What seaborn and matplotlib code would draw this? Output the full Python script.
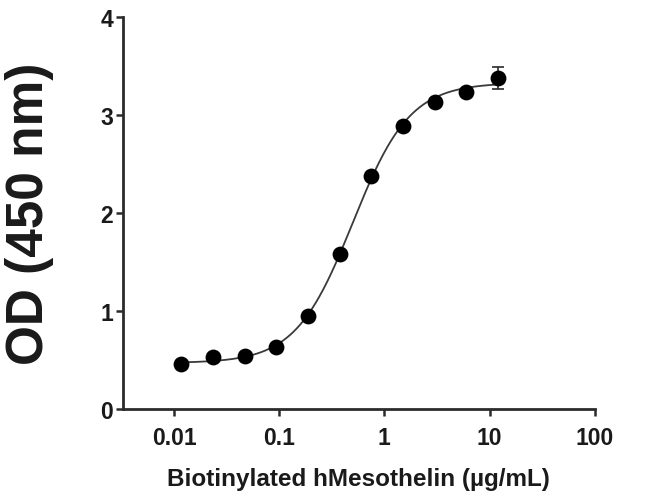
import matplotlib
matplotlib.use("Agg")
import matplotlib.pyplot as plt
import seaborn as sns
import numpy as np
import pandas as pd

# measured points (2-fold dilution series)
conc = [0.01172, 0.02344, 0.04688, 0.09375, 0.1875, 0.375, 0.75, 1.5, 3.0, 6.0, 12.0]
od = [0.46, 0.53, 0.54, 0.63, 0.95, 1.58, 2.38, 2.89, 3.13, 3.24, 3.38]
od_err = [0.0, 0.0, 0.0, 0.0, 0.0, 0.0, 0.0, 0.0, 0.0, 0.0, 0.11]

# 4PL fit parameters
fit_bottom = 0.47
fit_top = 3.33
fit_ec50 = 0.50
fit_hill = 1.6

x_ticks = [0.01, 0.1, 1, 10, 100]
x_ticklabels = ["0.01", "0.1", "1", "10", "100"]
y_ticks = [0, 1, 2, 3, 4]

sns.set_style("ticks")
plt.rcParams['font.family'] = ['Liberation Sans', 'DejaVu Sans']
plt.rcParams['font.weight'] = 'bold'

fig = plt.figure(figsize=(6.5, 5.02), dpi=100)
ax = fig.add_axes([0.189, 0.183, 0.726, 0.781])

ink = "#2b2b2b"

xs = np.logspace(np.log10(conc[0]), np.log10(conc[-1]), 300)
fit = pd.DataFrame({
    "x": xs,
    "y": fit_bottom + (fit_top - fit_bottom) / (1 + (fit_ec50 / xs) ** fit_hill),
})
sns.lineplot(data=fit, x="x", y="y", color="#3a3a3a", linewidth=1.3, ax=ax)

pts = pd.DataFrame({"x": conc, "y": od})
ax.errorbar(conc, od, yerr=od_err, fmt="none", ecolor=ink, elinewidth=1.2,
            capsize=4, capthick=1.2, zorder=3)
sns.scatterplot(data=pts, x="x", y="y", color="black", s=130, edgecolor="black",
                linewidth=0, ax=ax, zorder=4)

ax.set_xscale("log")
ax.set_xlim(10 ** -2.486, 100)
ax.set_ylim(0, 4)
ax.set_xticks(x_ticks)
ax.set_xticklabels(x_ticklabels)
ax.xaxis.set_minor_locator(matplotlib.ticker.NullLocator())
ax.set_yticks(y_ticks)

for s in ["top", "right"]:
    ax.spines[s].set_visible(False)
for s in ["left", "bottom"]:
    ax.spines[s].set_linewidth(2)
    ax.spines[s].set_color(ink)

ax.tick_params(axis="both", direction="out", length=5, width=1.8, color=ink,
               labelsize=16.5, labelcolor="#1a1a1a")
ax.tick_params(axis="y", pad=2)
ax.tick_params(axis="x", pad=7)

ax.set_xlabel("Biotinylated hMesothelin (µg/mL)", fontsize=17.5, fontweight="bold",
              color="#1a1a1a", labelpad=13)
ax.set_ylabel("OD (450 nm)", fontsize=37, fontweight="bold", color="#1a1a1a",
              labelpad=33)
ax.grid(False)

fig.savefig("out.png", dpi=100)
